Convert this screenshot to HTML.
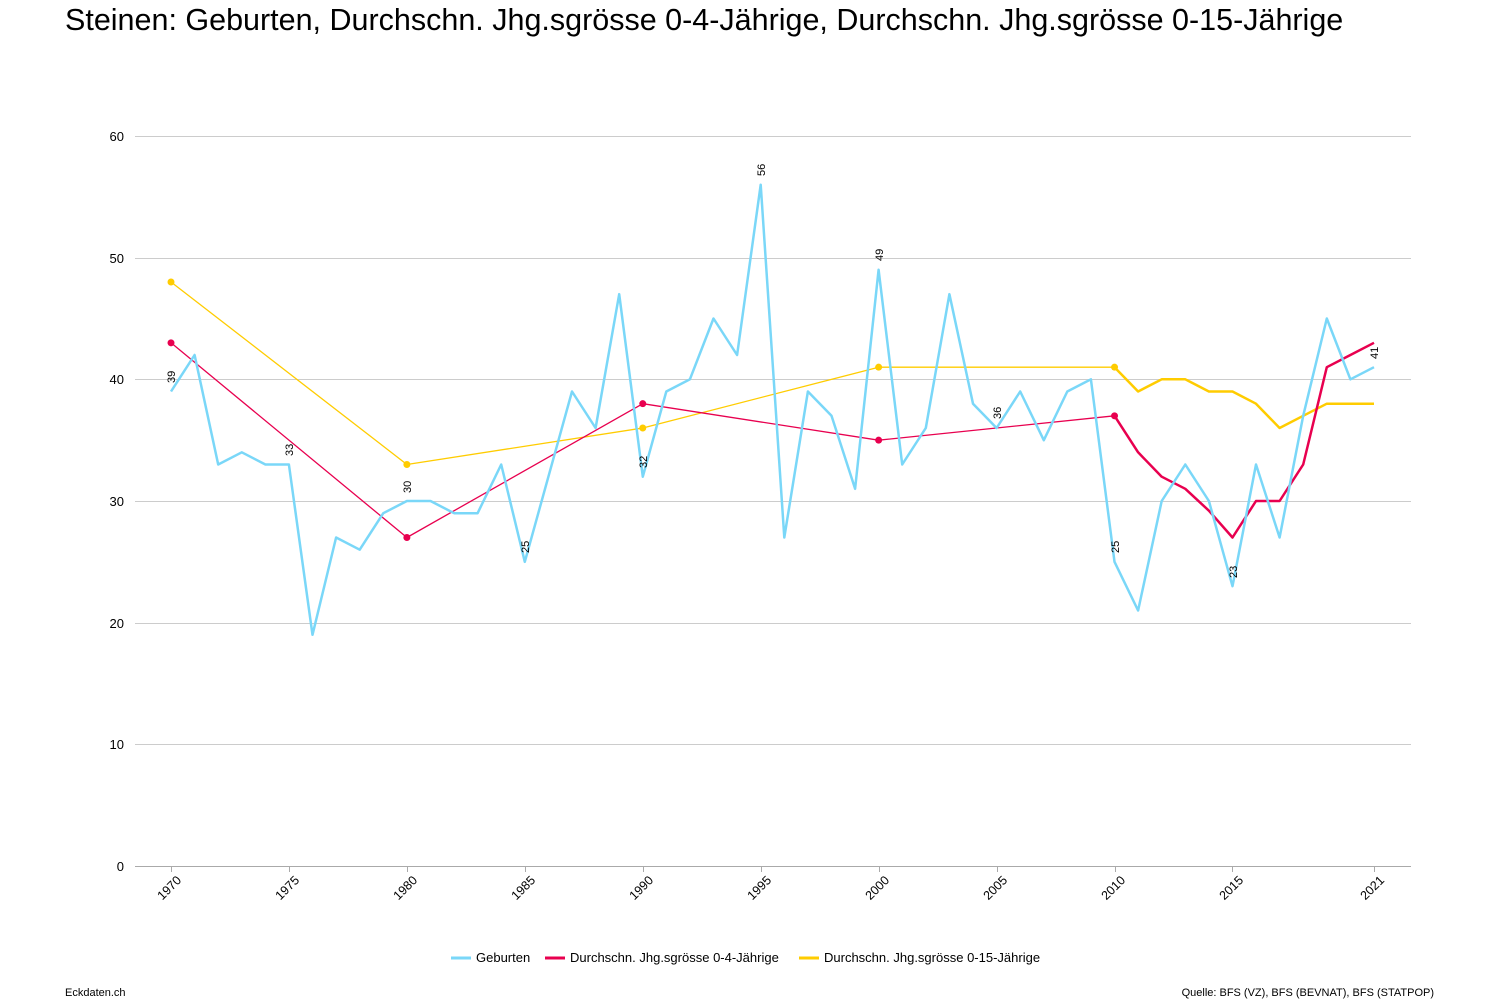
<!DOCTYPE html>
<html><head><meta charset="utf-8"><style>
body{margin:0;background:#fff;}
svg{display:block;font-family:"Liberation Sans",Arial,sans-serif;}
</style></head><body>
<svg id="s" width="1500" height="1000" xmlns="http://www.w3.org/2000/svg">
<text x="65" y="30" font-size="30.5" fill="#000">Steinen: Geburten, Durchschn. Jhg.sgrösse 0-4-Jährige, Durchschn. Jhg.sgrösse 0-15-Jährige</text>
<g stroke="#cccccc" stroke-width="1">
<line x1="135" y1="136.5" x2="1411" y2="136.5"/>
<line x1="135" y1="258.5" x2="1411" y2="258.5"/>
<line x1="135" y1="379.5" x2="1411" y2="379.5"/>
<line x1="135" y1="501.5" x2="1411" y2="501.5"/>
<line x1="135" y1="623.5" x2="1411" y2="623.5"/>
<line x1="135" y1="744.5" x2="1411" y2="744.5"/>
</g>
<line x1="135" y1="866.5" x2="1411" y2="866.5" stroke="#aaa" stroke-width="1"/>
<g font-size="13" fill="#000" text-anchor="end">
<text x="124" y="141">60</text><text x="124" y="263">50</text><text x="124" y="384">40</text>
<text x="124" y="506">30</text><text x="124" y="628">20</text><text x="124" y="749">10</text><text x="124" y="871">0</text>
</g>
<g id="ticks" stroke="#aaa" stroke-width="1"></g>
<g font-size="12.5" fill="#000" text-anchor="end">
<text transform="translate(182,881) rotate(-45)">1970</text>
<text transform="translate(300,881) rotate(-45)">1975</text>
<text transform="translate(418,881) rotate(-45)">1980</text>
<text transform="translate(536,881) rotate(-45)">1985</text>
<text transform="translate(654,881) rotate(-45)">1990</text>
<text transform="translate(772,881) rotate(-45)">1995</text>
<text transform="translate(890,881) rotate(-45)">2000</text>
<text transform="translate(1008,881) rotate(-45)">2005</text>
<text transform="translate(1126,881) rotate(-45)">2010</text>
<text transform="translate(1244,881) rotate(-45)">2015</text>
<text transform="translate(1385,881) rotate(-45)">2021</text>
</g>
<g id="series"></g>
<g font-size="11" fill="#000">
<text transform="translate(175,383) rotate(-90)">39</text>
<text transform="translate(293,456) rotate(-90)">33</text>
<text transform="translate(411,493) rotate(-90)">30</text>
<text transform="translate(529,553) rotate(-90)">25</text>
<text transform="translate(647,468) rotate(-90)">32</text>
<text transform="translate(765,176) rotate(-90)">56</text>
<text transform="translate(883,261) rotate(-90)">49</text>
<text transform="translate(1001,419) rotate(-90)">36</text>
<text transform="translate(1119,553) rotate(-90)">25</text>
<text transform="translate(1237,578) rotate(-90)">23</text>
<text transform="translate(1378,359) rotate(-90)">41</text>
</g>
<g font-size="13" fill="#000">
<line x1="451" y1="958" x2="471" y2="958" stroke="#7ad7f8" stroke-width="3"/>
<text x="476" y="962">Geburten</text>
<line x1="545" y1="958" x2="565" y2="958" stroke="#e8004f" stroke-width="3"/>
<text x="570" y="962">Durchschn. Jhg.sgrösse 0-4-Jährige</text>
<line x1="799" y1="958" x2="819" y2="958" stroke="#ffcc00" stroke-width="3"/>
<text x="824" y="962">Durchschn. Jhg.sgrösse 0-15-Jährige</text>
</g>
<text x="65" y="996" font-size="11" fill="#000">Eckdaten.ch</text>
<text x="1434" y="996" font-size="11" fill="#000" text-anchor="end">Quelle: BFS (VZ), BFS (BEVNAT), BFS (STATPOP)</text>
</svg>
<script>
var NS="http://www.w3.org/2000/svg";
function X(y){return 171+(y-1970)*23.588;}
function Y(v){return 866-v*12.1667;}
var t=document.getElementById("ticks");
[1970,1975,1980,1985,1990,1995,2000,2005,2010,2015,2021].forEach(function(y){
var l=document.createElementNS(NS,"line");var x=Math.round(X(y))+0.5;
l.setAttribute("x1",x);l.setAttribute("x2",x);l.setAttribute("y1",866);l.setAttribute("y2",872);t.appendChild(l);});
var g=document.getElementById("series");
function poly(pts,col,w){var p=document.createElementNS(NS,"polyline");
p.setAttribute("points",pts.map(function(a){return X(a[0]).toFixed(1)+","+Y(a[1]).toFixed(1)}).join(" "));
p.setAttribute("fill","none");p.setAttribute("stroke",col);p.setAttribute("stroke-width",w);p.setAttribute("stroke-linejoin","round");g.appendChild(p);}
function dot(a,col){var c=document.createElementNS(NS,"circle");c.setAttribute("cx",X(a[0]));c.setAttribute("cy",Y(a[1]));c.setAttribute("r",3.5);c.setAttribute("fill",col);g.appendChild(c);}
var geb=[39,42,33,34,33,33,19,27,26,29,30,30,29,29,33,25,32,39,36,47,32,39,40,45,42,56,27,39,37,31,49,33,36,47,38,36,39,35,39,40,25,21,30,33,30,23,33,27,37,45,40,41];
var yel=[[1970,48],[1980,33],[1990,36],[2000,41],[2010,41]];
var yel2=[[2010,41],[2011,39],[2012,40],[2013,40],[2014,39],[2015,39],[2016,38],[2017,36],[2018,37],[2019,38],[2020,38],[2021,38]];
var red=[[1970,43],[1980,27],[1990,38],[2000,35],[2010,37]];
var red2=[[2010,37],[2011,34],[2012,32],[2013,31],[2014,29.2],[2015,27],[2016,30],[2017,30],[2018,33],[2019,41],[2020,42],[2021,43]];
poly(yel,"#ffcc00",1.3);poly(yel2,"#ffcc00",2.5);yel.forEach(function(a){dot(a,"#ffcc00")});
poly(red,"#e8004f",1.3);poly(red2,"#e8004f",2.5);red.forEach(function(a){dot(a,"#e8004f")});
poly(geb.map(function(v,i){return [1970+i,v]}),"#7ad7f8",2.5);
</script>
</body></html>
